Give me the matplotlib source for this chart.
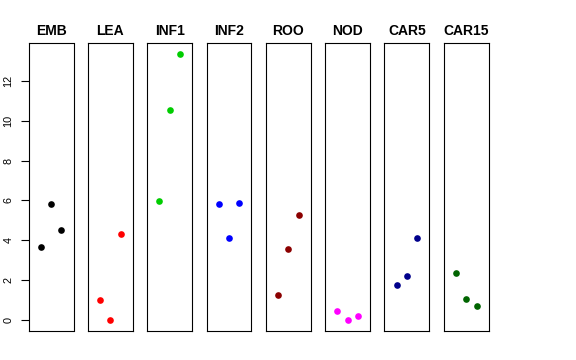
import matplotlib.pyplot as plt

plt.rcParams["font.family"] = ["Liberation Sans", "DejaVu Sans"]

GROUPS = ["EMB", "LEA", "INF1", "INF2", "ROO", "NOD", "CAR5", "CAR15"]
COLORS = ["black", "red", "#00cd00", "blue", "#8b0000", "magenta", "#00008b", "#006400"]
REPLICATE = [1, 2, 3]
VALUES = {
    "EMB": [3.66, 5.82, 4.51],
    "LEA": [1.00, 0.00, 4.34],
    "INF1": [5.97, 10.51, 13.35],
    "INF2": [5.82, 4.11, 5.87],
    "ROO": [1.28, 3.57, 5.27],
    "NOD": [0.45, 0.00, 0.22],
    "CAR5": [1.78, 2.22, 4.11],
    "CAR15": [2.35, 1.08, 0.72],
}
Y_TICKS = [0, 2, 4, 6, 8, 10, 12]

W, H = 576, 360
fig = plt.figure(figsize=(W / 100, H / 100), dpi=100)

all_vals = [v for g in GROUPS for v in VALUES[g]]
lo, hi = min(all_vals), max(all_vals)
pad = 0.04 * (hi - lo)

for i, (g, col) in enumerate(zip(GROUPS, COLORS)):
    left = 28.7 + i * 59.3
    ax = fig.add_axes([left / W, 1 - 331 / H, 44.8 / W, 288 / H])
    ax.plot(REPLICATE, VALUES[g], "o", color=col, markersize=4.8, markeredgewidth=0)
    ax.set_xlim(-0.16, 4.16)
    ax.set_ylim(lo - pad, hi + pad)
    ax.set_xticks([])
    for s in ax.spines.values():
        s.set_linewidth(0.8)
    if i == 0:
        ax.set_yticks(Y_TICKS)
        ax.tick_params(axis="y", length=5.5, width=0.8, labelsize=7.8, pad=5.5)
        for lab in ax.get_yticklabels():
            lab.set_rotation(90)
            lab.set_va("center")
    else:
        ax.set_yticks([])
    ax.set_title(g, fontsize=10, fontweight="bold", pad=6)

fig.savefig("out.png", dpi=100)
